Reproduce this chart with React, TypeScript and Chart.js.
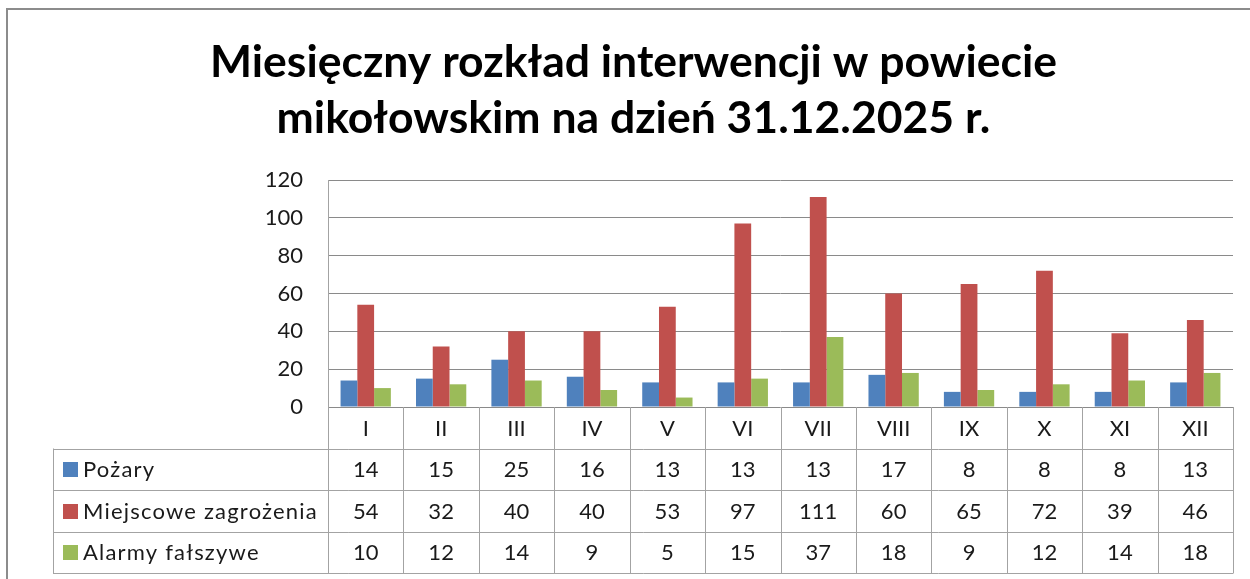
import React, { useEffect, useRef } from "react";
import { Chart, registerables } from "chart.js";

Chart.register(...registerables);

const titleLines = ["Miesięczny rozkład interwencji w powiecie", "mikołowskim na dzień 31.12.2025 r."];
const categories = ["I", "II", "III", "IV", "V", "VI", "VII", "VIII", "IX", "X", "XI", "XII"];
const seriesNames = ["Pożary", "Miejscowe zagrożenia", "Alarmy fałszywe"];
const pozary = [14, 15, 25, 16, 13, 13, 13, 17, 8, 8, 8, 13];
const miejscowe = [54, 32, 40, 40, 53, 97, 111, 60, 65, 72, 39, 46];
const alarmy = [10, 12, 14, 9, 5, 15, 37, 18, 9, 12, 14, 18];
const seriesColors = ["#4F81BD", "#C0504D", "#9BBB59"];
const yTicks = [0, 20, 40, 60, 80, 100, 120];

const FONT = "Lato, 'Open Sans', sans-serif";
const TEXT = "#1a1a1a";
const GRID = "#8a8a8a";
const TABLE = "#a3a3a3";

const framePlugin = {
  id: "frame",
  beforeDraw(chart: any) {
    const ctx = chart.ctx;
    ctx.save();
    ctx.fillStyle = "#ffffff";
    ctx.fillRect(0, 0, chart.width, chart.height);
    ctx.strokeStyle = "#8c8c8c";
    ctx.lineWidth = 2;
    ctx.strokeRect(7, 9, chart.width + 10, chart.height + 10);
    ctx.restore();
  },
};

const tablePlugin = {
  id: "dataTable",
  afterDraw(chart: any) {
    const { ctx, chartArea: ca } = chart;
    const xs = chart.scales.x;
    const n = categories.length;
    const colW = (ca.right - ca.left) / n;
    const rowH = 41.5;
    const legendLeft = 53;
    const top = ca.bottom;
    const rows = [pozary, miejscowe, alarmy];
    const bottom = top + rowH * (rows.length + 1);
    const px = (v: number) => Math.round(v) + 0.5;

    ctx.save();
    ctx.strokeStyle = TABLE;
    ctx.lineWidth = 1;
    ctx.beginPath();
    ctx.moveTo(px(ca.left), ca.top);
    ctx.lineTo(px(ca.left), bottom);
    for (let i = 1; i <= n; i++) {
      const xx = px(ca.left + i * colW);
      ctx.moveTo(xx, top);
      ctx.lineTo(xx, bottom);
    }
    ctx.moveTo(px(legendLeft), top + rowH);
    ctx.lineTo(px(legendLeft), bottom);
    for (let r = 1; r <= rows.length + 1; r++) {
      const yy = px(top + r * rowH);
      ctx.moveTo(legendLeft, yy);
      ctx.lineTo(ca.right + 0.5, yy);
    }
    ctx.stroke();

    ctx.fillStyle = TEXT;
    ctx.font = `22px ${FONT}`;
    ctx.textAlign = "center";
    ctx.textBaseline = "middle";
    categories.forEach((c, i) => {
      ctx.fillText(c, xs.getPixelForValue(i), top + rowH / 2 + 1);
    });
    rows.forEach((vals, r) => {
      const cy = top + rowH * (r + 1) + rowH / 2 + 1;
      vals.forEach((v, i) => {
        ctx.fillText(String(v), xs.getPixelForValue(i), cy);
      });
      ctx.fillStyle = seriesColors[r];
      ctx.fillRect(legendLeft + 10, Math.round(cy - 8), 15, 15);
      ctx.fillStyle = TEXT;
      ctx.textAlign = "left";
      (ctx as any).letterSpacing = "1.2px";
      ctx.fillText(seriesNames[r], legendLeft + 30, cy);
      (ctx as any).letterSpacing = "0px";
      ctx.textAlign = "center";
    });
    ctx.restore();
  },
};

export default function App() {
  const ref = useRef<HTMLCanvasElement | null>(null);
  useEffect(() => {
    if (!ref.current) return;
    const chart = new Chart(ref.current, {
      type: "bar",
      data: {
        labels: categories,
        datasets: [
          { label: seriesNames[0], data: pozary, backgroundColor: seriesColors[0] },
          { label: seriesNames[1], data: miejscowe, backgroundColor: seriesColors[1] },
          { label: seriesNames[2], data: alarmy, backgroundColor: seriesColors[2] },
        ],
      },
      options: {
        responsive: false,
        animation: false,
        datasets: { bar: { categoryPercentage: 0.667, barPercentage: 1.0 } },
        layout: { padding: { left: 34, right: 17, top: 0, bottom: 172 } },
        plugins: {
          legend: { display: false },
          tooltip: { enabled: false },
          title: {
            display: true,
            text: titleLines,
            color: "#000000",
            font: { family: FONT, size: 44.5, weight: "bold", lineHeight: 56 / 44.5 },
            padding: { top: 35, bottom: 33 },
          },
        },
        scales: {
          x: { display: false, grid: { display: false } },
          y: {
            min: 0,
            max: 120,
            afterBuildTicks(scale: any) {
              scale.ticks = yTicks.map((v) => ({ value: v }));
            },
            afterFit(scale: any) {
              scale.width = 294;
            },
            grid: { color: GRID, drawTicks: false, lineWidth: 1 },
            border: { display: false },
            ticks: { color: TEXT, font: { family: FONT, size: 22 }, padding: 25 },
          },
        },
      },
      plugins: [framePlugin, tablePlugin],
    });
    return () => chart.destroy();
  }, []);
  return (
    <div style={{ position: "absolute", left: 0, top: 0, width: 1250, height: 579 }}>
      <canvas ref={ref} width={1250} height={579} style={{ display: "block" }} />
    </div>
  );
}
